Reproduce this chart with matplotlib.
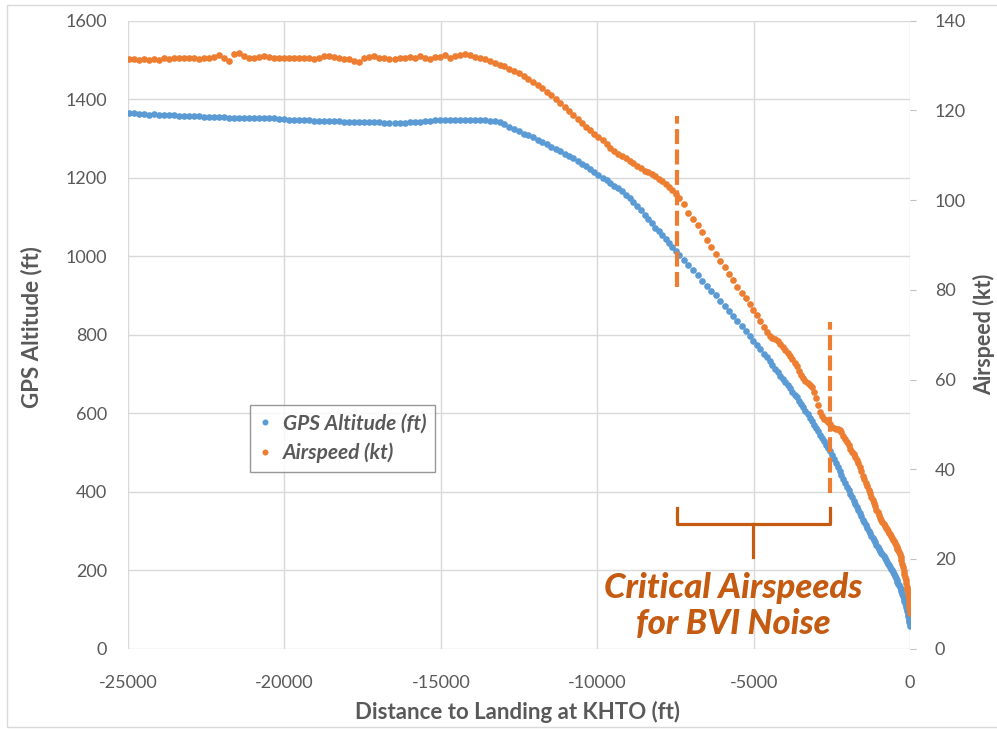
import matplotlib
matplotlib.use("Agg")
import matplotlib.pyplot as plt
from matplotlib.patches import Rectangle

plt.rcParams['font.family'] = ['Lato', 'DejaVu Sans']
plt.rcParams['axes.unicode_minus'] = False

# distance to landing (ft), GPS altitude (ft) and airspeed (kt)
dist_a = [-24960, -24800, -24640, -24480, -24320, -24160, -24000, -23840, -23680, -23520,
          -23360, -23200, -23040, -22880, -22720, -22560, -22400, -22240, -22080, -21920,
          -21760, -21600, -21440, -21280, -21120, -20960, -20800, -20640, -20480, -20320,
          -20160, -20000, -19840, -19680, -19520, -19360, -19200, -19040, -18880, -18720,
          -18560, -18400, -18240, -18080, -17920, -17760, -17600, -17440, -17280, -17120,
          -16960, -16800, -16640, -16480, -16320, -16160, -16000, -15840, -15680, -15520,
          -15360, -15200, -15040, -14880, -14720, -14560, -14400, -14240, -14080, -13920,
          -13760, -13600, -13440, -13280, -13120]
alt_a = [1364, 1364, 1363, 1363, 1361, 1362, 1361, 1361, 1360, 1360,
         1358, 1357, 1357, 1356, 1356, 1355, 1355, 1354, 1354, 1354,
         1353, 1353, 1353, 1353, 1352, 1352, 1352, 1351, 1351, 1351,
         1350, 1349, 1348, 1347, 1347, 1346, 1346, 1345, 1345, 1345,
         1344, 1344, 1344, 1343, 1343, 1343, 1342, 1342, 1342, 1341,
         1341, 1340, 1340, 1339, 1339, 1340, 1341, 1342, 1343, 1344,
         1345, 1346, 1347, 1347, 1348, 1348, 1348, 1348, 1347, 1347,
         1346, 1346, 1345, 1344, 1341]
spd_a = [131.4, 131.5, 131.3, 131.4, 131.2, 131.4, 131.3, 131.6, 131.5, 131.6,
         131.7, 131.6, 131.7, 131.6, 131.5, 131.7, 131.8, 132.0, 132.4, 131.8,
         131.1, 132.5, 132.9, 132.2, 131.6, 131.8, 131.9, 132.1, 131.9, 131.7,
         131.8, 131.8, 131.7, 131.7, 131.6, 131.7, 131.6, 131.4, 131.8, 132.1,
         132.2, 131.9, 131.8, 131.5, 131.4, 131.1, 130.9, 131.6, 132.0, 132.1,
         131.8, 131.7, 131.5, 131.5, 131.6, 131.7, 131.9, 131.8, 132.1, 131.6,
         131.5, 131.9, 132.0, 132.3, 131.8, 132.1, 132.4, 132.6, 132.3, 132.0,
         131.7, 131.5, 131.1, 130.6, 130.2]

dist_b = [-12965, -12810, -12655, -12500, -12350, -12200, -12050, -11900, -11755, -11610,
          -11465, -11320, -11180, -11040, -10900, -10760, -10625, -10490, -10355, -10220,
          -10090, -9960, -9830, -9700, -9575, -9450, -9325, -9200, -9080, -8960,
          -8840, -8720, -8600, -8485, -8370, -8255, -8140, -8030, -7920, -7810,
          -7700, -7595, -7490, -7385]
alt_b = [1336, 1330, 1324, 1318, 1312, 1308, 1303, 1297, 1291, 1285,
         1279, 1273, 1267, 1261, 1255, 1249, 1243, 1236, 1229, 1222,
         1215, 1207, 1200, 1193, 1187, 1180, 1173, 1165, 1157, 1148,
         1138, 1128, 1117, 1106, 1095, 1084, 1073, 1063, 1053, 1043,
         1034, 1024, 1014, 1004]
spd_b = [129.8, 129.3, 128.8, 128.3, 127.7, 127.0, 126.3, 125.6, 125.0, 124.2,
         123.4, 122.5, 121.7, 120.8, 119.9, 119.0, 118.1, 117.3, 116.4, 115.6,
         114.8, 114.0, 113.3, 112.5, 111.7, 111.0, 110.3, 109.8, 109.3, 108.7,
         108.2, 107.7, 107.1, 106.6, 106.2, 105.8, 105.3, 104.8, 104.2, 103.6,
         102.9, 102.2, 101.4, 100.4]

dist_c = [-7235, -7085, -6935, -6785, -6640, -6495, -6350, -6205, -6065, -5925,
          -5785, -5650, -5515, -5385, -5255, -5130, -5010, -4895, -4785, -4680,
          -4580, -4485, -4395, -4310, -4225, -4145, -4065, -3990, -3915, -3840,
          -3765, -3690, -3620, -3550, -3480, -3410, -3340, -3270, -3200, -3135,
          -3070, -3005, -2940, -2875, -2810, -2745, -2680, -2615, -2550]
alt_c = [991, 978, 964, 951, 938, 925, 912, 900, 887, 874,
         860, 847, 834, 821, 809, 797, 785, 774, 763, 752,
         742, 732, 722, 713, 704, 695, 687, 679, 671, 663,
         655, 647, 640, 632, 624, 615, 606, 597, 588, 579,
         571, 562, 554, 545, 537, 529, 520, 512, 503]
spd_c = [99.2, 97.2, 95.8, 94.4, 92.9, 91.2, 89.6, 88.0, 86.5, 85.0,
         83.6, 82.2, 80.7, 79.4, 78.1, 76.8, 75.6, 74.5, 73.0, 71.7,
         70.6, 69.8, 69.3, 69.0, 68.6, 68.0, 67.3, 66.6, 66.0, 65.3,
         64.6, 63.8, 63.0, 62.0, 61.1, 60.3, 59.7, 59.2, 58.8, 58.3,
         57.3, 55.9, 54.3, 52.8, 51.9, 51.3, 51.0, 50.6, 50.2]

dist_d = [-2490, -2430, -2370, -2310, -2250, -2190, -2130, -2075, -2020, -1965,
          -1910, -1855, -1800, -1750, -1700, -1650, -1600, -1550, -1500, -1455,
          -1410, -1365, -1320, -1275, -1230, -1190, -1150, -1110, -1070, -1030,
          -990, -950, -915, -880, -845, -810, -775, -740, -705, -670,
          -640, -610, -580, -550, -520, -490, -460, -430, -400, -375,
          -350, -325, -300, -275, -250, -225, -200, -180, -160, -140,
          -120, -100, -85, -70, -55, -40, -28, -16, -6, 0]
alt_d = [493, 483, 473, 463, 453, 443, 433, 423, 413, 404,
         395, 386, 377, 369, 361, 353, 345, 337, 329, 322,
         315, 308, 301, 294, 288, 282, 276, 271, 265, 260,
         255, 249, 244, 240, 235, 231, 226, 222, 217, 213,
         209, 204, 200, 195, 190, 185, 180, 175, 170, 166,
         162, 158, 153, 147, 140, 134, 127, 122, 116, 111,
         105, 100, 95, 89, 83, 78, 73, 68, 63, 59]
spd_d = [49.5, 49.2, 49.0, 48.9, 48.7, 48.2, 47.5, 46.8, 46.0, 45.3,
         44.6, 43.9, 43.3, 42.7, 42.1, 41.3, 40.5, 39.6, 38.6, 37.8,
         37.0, 36.2, 35.4, 34.6, 33.8, 33.1, 32.4, 31.7, 31.0, 30.4,
         29.8, 29.2, 28.7, 28.2, 27.8, 27.4, 27.0, 26.6, 26.2, 25.8,
         25.5, 25.1, 24.7, 24.3, 23.9, 23.5, 23.1, 22.7, 22.3, 21.9,
         21.5, 21.0, 20.4, 19.7, 18.9, 18.2, 17.4, 16.7, 16.0, 15.3,
         14.6, 13.8, 13.2, 12.6, 11.9, 11.0, 10.2, 9.4, 8.6, 8.0]

distance = dist_a + dist_b + dist_c + dist_d
gps_alt = alt_a + alt_b + alt_c + alt_d
airspeed = spd_a + spd_b + spd_c + spd_d

# critical airspeed window (distance, ft)
crit_start = -7450
crit_end = -2560

blue = '#5B9BD5'
orange = '#ED7D31'
dark_orange = '#C55A11'
txt = '#595959'
grid = '#D9D9D9'

fig = plt.figure(figsize=(9.97, 7.3), dpi=100)
fig.patches.append(Rectangle((0.007, 0.004), 1.2, 0.989, transform=fig.transFigure,
                             fill=False, edgecolor='#D9D9D9', lw=1))
ax = fig.add_axes([0.1284, 0.1114, 0.7843, 0.8602])
ax2 = ax.twinx()

h1, = ax.plot(distance, gps_alt, 'o', ls='none', ms=4.8, mew=0, color=blue,
              label='GPS Altitude (ft)')
h2, = ax2.plot(distance, airspeed, 'o', ls='none', ms=4.8, mew=0, color=orange,
               label='Airspeed (kt)')

ax.set_xlim(-25000, 0)
ax.set_ylim(0, 1600)
ax2.set_ylim(0, 140)
ax.set_xticks(range(-25000, 1, 5000))
ax.set_yticks(range(0, 1601, 200))
ax2.set_yticks(range(0, 141, 20))
ax.grid(True, color=grid, lw=1)
ax.set_axisbelow(True)
for a in (ax, ax2):
    for s in a.spines.values():
        s.set_visible(False)
ax.tick_params(axis='both', length=0, labelsize=13, labelcolor=txt)
ax.tick_params(axis='y', pad=15)
ax.tick_params(axis='x', pad=19)
ax2.tick_params(axis='y', length=4, color='#BFBFBF', labelsize=13, labelcolor=txt, pad=14)

# critical airspeed markers
ax2.plot([crit_start, crit_start], [921, 1356], transform=ax.transData, color=orange,
         lw=3, dashes=(3.6, 1.3))
ax2.plot([crit_end, crit_end], [397, 832], transform=ax.transData, color=orange,
         lw=3, dashes=(3.6, 1.3))
mid = (crit_start + crit_end) / 2
ax2.plot([crit_start, crit_start, crit_end, crit_end], [358, 318, 318, 358],
         transform=ax.transData, color=dark_orange, lw=2.3, solid_joinstyle='round')
ax2.plot([mid, mid], [318, 234], transform=ax.transData, color=dark_orange, lw=2.3)
ax2.text(-5660, 109, 'Critical Airspeeds\nfor BVI Noise', transform=ax.transData,
         ha='center', va='center', fontsize=25, fontweight='black', style='italic',
         color=dark_orange, linespacing=1.15)

leg = ax2.legend(handles=[h1, h2], loc='upper left', bbox_to_anchor=(0.156, 0.388),
                 borderaxespad=0, frameon=True, fancybox=False, handlelength=0.6,
                 handletextpad=0.6, markerscale=0.9, borderpad=0.4, labelspacing=0.45,
                 prop={'size': 15, 'style': 'italic', 'weight': 'bold'})
leg.get_frame().set_edgecolor('#7F7F7F')
leg.get_frame().set_linewidth(1)
for t in leg.get_texts():
    t.set_color(txt)

fig.text(0.519, 1 - 712 / 730, 'Distance to Landing at KHTO (ft)', ha='center', va='center',
         fontsize=16, fontweight='bold', color=txt)
fig.text(32 / 997, 1 - 327 / 730, 'GPS Altitude (ft)', ha='center', va='center',
         rotation=90, fontsize=16, fontweight='bold', color=txt)
fig.text(984 / 997, 1 - 334 / 730, 'Airspeed (kt)', ha='center', va='center',
         rotation=90, fontsize=15.5, fontweight='bold', color=txt)

fig.savefig('out.png', dpi=100)
